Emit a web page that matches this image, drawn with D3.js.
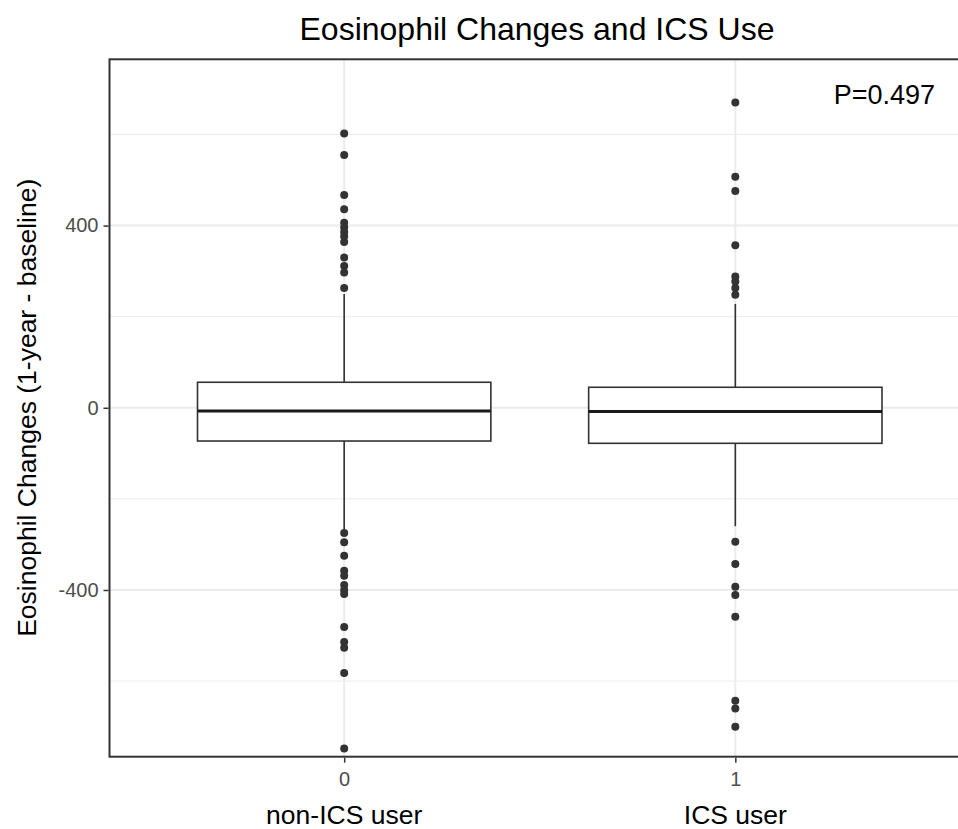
<!DOCTYPE html>
<html>
<head>
<meta charset="utf-8">
<script src="https://cdn.jsdelivr.net/npm/d3@7"></script>
<style>
  body { margin: 0; background: #fff; }
  svg { display: block; font-family: "Liberation Sans", Arial, sans-serif; }
</style>
</head>
<body>
<svg id="chart" width="958" height="829"></svg>
<script>
// categories and labels
var groups = ["0", "1"];
var groupNames = ["non-ICS user", "ICS user"];

// box stats per group: [lowerWhisker, Q1, median, Q3, upperWhisker]
var boxStats = [
  [-268, -73, -7, 56, 250],
  [-260, -78, -8, 45, 228]
];

// outliers per group
var outliers0 = [602, 555, 467, 436, 406, 396, 386, 376, 364, 330, 311, 297, 263,
  -275, -295, -325, -358, -369, -389, -400, -409, -481, -514, -527, -582, -748];
var outliers1 = [670, 507, 476, 357, 288, 277, 263, 248,
  -294, -343, -393, -411, -459, -643, -660, -700];

var yMajor = [-400, 0, 400];
var yMinor = [-600, -200, 200, 600];
var pLabel = "P=0.497";

var svg = d3.select("#chart");

var panel = {left: 109.5, top: 59.3, right: 970, bottom: 756.7};

var x = d3.scaleLinear()
    .domain([-0.6, 1.6])
    .range([panel.left, panel.right]);

var y = d3.scaleLinear()
    .domain([-766, 765])
    .range([panel.bottom, panel.top]);

var g = svg.append("g");

// grid
g.selectAll(".minor")
  .data(yMinor)
  .enter().append("line")
    .attr("x1", panel.left).attr("x2", panel.right)
    .attr("y1", d => y(d)).attr("y2", d => y(d))
    .attr("stroke", "#ebebeb").attr("stroke-width", 1);

g.selectAll(".major")
  .data(yMajor)
  .enter().append("line")
    .attr("x1", panel.left).attr("x2", panel.right)
    .attr("y1", d => y(d)).attr("y2", d => y(d))
    .attr("stroke", "#ebebeb").attr("stroke-width", 2);

g.selectAll(".vgrid")
  .data(groups)
  .enter().append("line")
    .attr("x1", (d, i) => x(i)).attr("x2", (d, i) => x(i))
    .attr("y1", panel.top).attr("y2", panel.bottom)
    .attr("stroke", "#ebebeb").attr("stroke-width", 2);

// boxes
var boxW = 0.75;
var boxes = g.selectAll(".box")
  .data(boxStats)
  .enter().append("g");

boxes.append("line")
    .attr("x1", (d, i) => x(i)).attr("x2", (d, i) => x(i))
    .attr("y1", d => y(d[3])).attr("y2", d => y(d[4]))
    .attr("stroke", "#333").attr("stroke-width", 1.6);

boxes.append("line")
    .attr("x1", (d, i) => x(i)).attr("x2", (d, i) => x(i))
    .attr("y1", d => y(d[1])).attr("y2", d => y(d[0]))
    .attr("stroke", "#333").attr("stroke-width", 1.6);

boxes.append("rect")
    .attr("x", (d, i) => x(i - boxW / 2))
    .attr("width", (d, i) => x(i + boxW / 2) - x(i - boxW / 2))
    .attr("y", d => y(d[3]))
    .attr("height", d => y(d[1]) - y(d[3]))
    .attr("fill", "#fff")
    .attr("stroke", "#333").attr("stroke-width", 1.6);

boxes.append("line")
    .attr("x1", (d, i) => x(i - boxW / 2)).attr("x2", (d, i) => x(i + boxW / 2))
    .attr("y1", d => y(d[2])).attr("y2", d => y(d[2]))
    .attr("stroke", "#1a1a1a").attr("stroke-width", 3);

// outlier points
[outliers0, outliers1].forEach(function(pts, i) {
  g.selectAll(".pt" + i)
    .data(pts)
    .enter().append("circle")
      .attr("cx", x(i))
      .attr("cy", d => y(d))
      .attr("r", 4)
      .attr("fill", "#333");
});

// panel border
svg.append("rect")
    .attr("x", panel.left).attr("y", panel.top)
    .attr("width", panel.right - panel.left)
    .attr("height", panel.bottom - panel.top)
    .attr("fill", "none")
    .attr("stroke", "#333").attr("stroke-width", 2);

// y axis
var yAxis = svg.append("g")
    .attr("transform", "translate(" + (panel.left - 1) + ",0)")
    .call(d3.axisLeft(y).tickValues(yMajor).tickFormat(d => String(d)).tickSize(5).tickPadding(5));
yAxis.select(".domain").remove();
yAxis.selectAll("line").attr("stroke", "#333").attr("stroke-width", 1.5);
yAxis.selectAll("text")
    .attr("fill", "#4d4d4d")
    .style("font-size", "20px")
    .style("font-family", "'Liberation Sans', Arial, sans-serif");

// x axis
var xAxis = svg.append("g")
    .attr("transform", "translate(0," + (panel.bottom + 1) + ")")
    .call(d3.axisBottom(x).tickValues([0, 1]).tickFormat((d, i) => groups[i]).tickSize(5).tickPadding(9));
xAxis.select(".domain").remove();
xAxis.selectAll("line").attr("stroke", "#333").attr("stroke-width", 1.5);
xAxis.selectAll("text")
    .attr("fill", "#4d4d4d")
    .style("font-size", "20px")
    .style("font-family", "'Liberation Sans', Arial, sans-serif");

// group names under ticks
svg.selectAll(".gname")
  .data(groupNames)
  .enter().append("text")
    .attr("x", (d, i) => x(i))
    .attr("y", 824)
    .attr("text-anchor", "middle")
    .attr("fill", "#000")
    .style("font-size", "26.5px")
    .text(d => d);

// y title
svg.append("text")
    .attr("transform", "translate(36," + y(0) + ") rotate(-90)")
    .attr("text-anchor", "middle")
    .attr("fill", "#000")
    .style("font-size", "26.5px")
    .text("Eosinophil Changes (1-year - baseline)");

// title
svg.append("text")
    .attr("x", 537)
    .attr("y", 40)
    .attr("text-anchor", "middle")
    .attr("fill", "#000")
    .style("font-size", "32px")
    .text("Eosinophil Changes and ICS Use");

// p value
svg.append("text")
    .attr("x", 935)
    .attr("y", 104)
    .attr("text-anchor", "end")
    .attr("fill", "#000")
    .style("font-size", "27px")
    .text(pLabel);
</script>
</body>
</html>
